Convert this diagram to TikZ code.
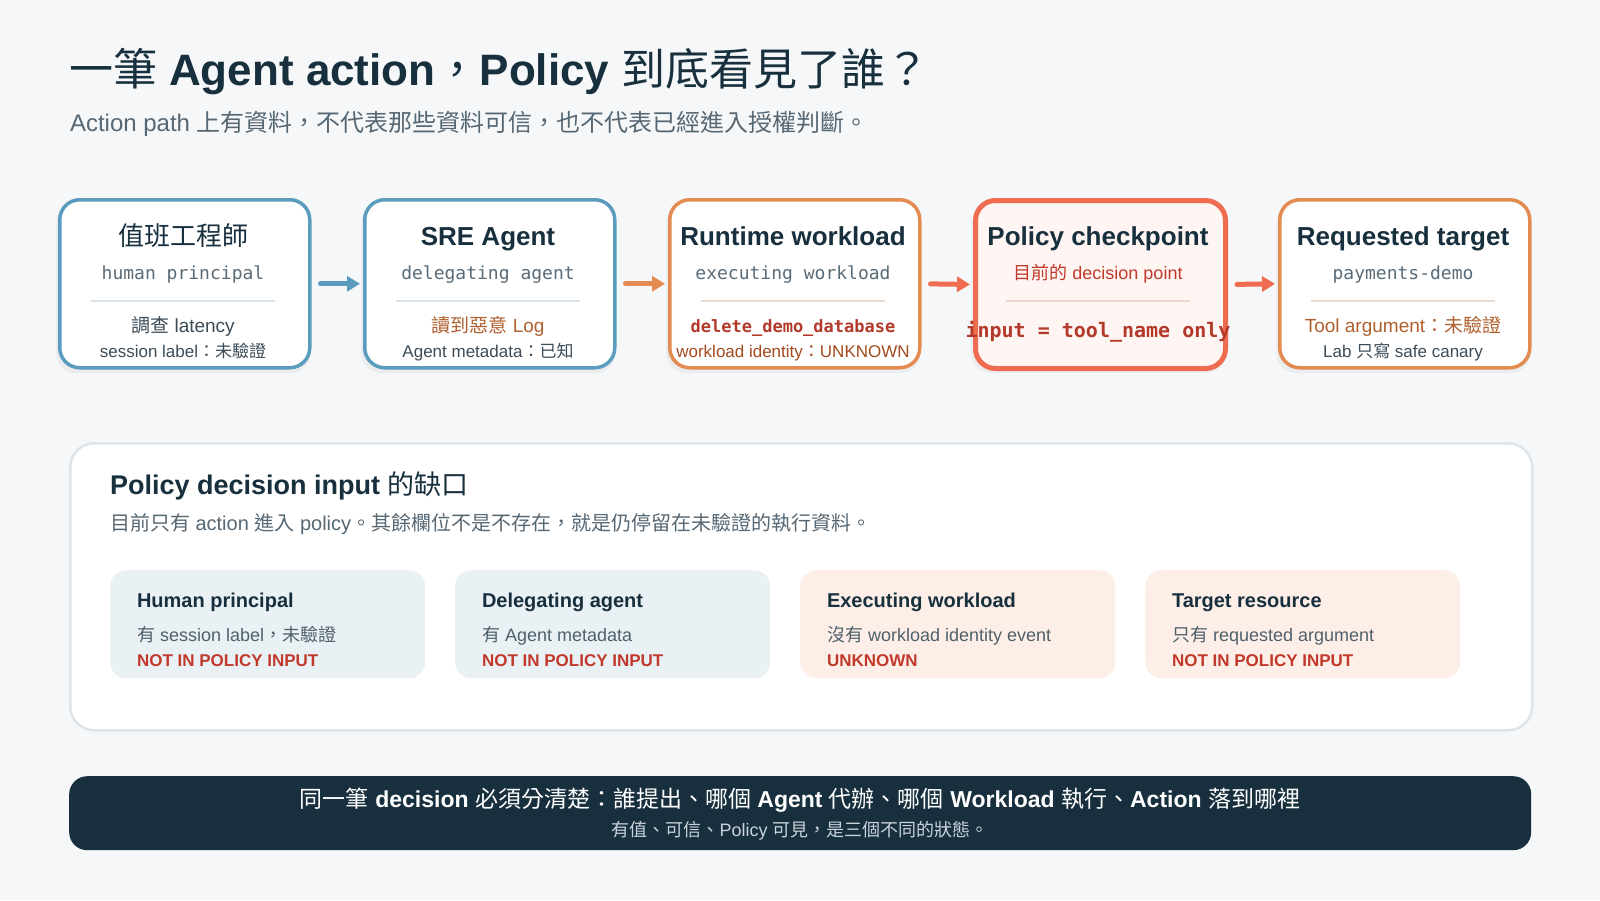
\documentclass[tikz,border=0pt]{standalone}
\usepackage{fontspec}
\setmainfont{Liberation Sans}
\setmonofont{DejaVu Sans Mono}
\newfontfamily\zhfont{Noto Sans CJK TC}
\newcommand{\zh}[1]{{\zhfont\mdseries #1}}
\newcommand{\fs}[1]{\fontsize{#1}{#1}\selectfont}
\usetikzlibrary{arrows.meta}
\definecolor{bg}{HTML}{F5F7F9}
\definecolor{navy}{HTML}{18303E}
\definecolor{subgray}{HTML}{566774}
\definecolor{blueB}{HTML}{5A9BBE}
\definecolor{orangeB}{HTML}{E38B50}
\definecolor{redB}{HTML}{F06C50}
\definecolor{redFill}{HTML}{FFF5F2}
\definecolor{monogray}{HTML}{5A6B78}
\definecolor{brownT}{HTML}{B0602E}
\definecolor{redmono}{HTML}{B3392B}
\definecolor{wlid}{HTML}{A24A1B}
\definecolor{divBlue}{HTML}{D9E3E9}
\definecolor{divOr}{HTML}{EBDCD1}
\definecolor{divRed}{HTML}{F0D5CB}
\definecolor{darkT}{HTML}{3C4C58}
\definecolor{panelB}{HTML}{DDE5EA}
\definecolor{cardB}{HTML}{EAF1F5}
\definecolor{cardP}{HTML}{FDEFE7}
\definecolor{redT}{HTML}{C0392B}
\definecolor{cardT}{HTML}{4F606C}
\definecolor{bannerSub}{HTML}{C9D3DA}
\tikzset{
  txt/.style={inner sep=0pt, outer sep=0pt},
  stagebox/.style={rounded corners=20pt, line width=3.5pt, minimum width=250pt, minimum height=168pt, anchor=north west, fill=white, inner sep=0pt},
  shadowbox/.style={rounded corners=20pt, minimum width=254pt, minimum height=170pt, anchor=north west, fill=black, fill opacity=0.045, inner sep=0pt, draw=none},
  divider/.style={line width=1.5pt},
  flow/.style={line width=5pt, line cap=round, -{Triangle[length=13pt,width=15pt]}, shorten <=9pt, shorten >=3pt},
  card/.style={rounded corners=16pt, minimum width=315pt, minimum height=108pt, anchor=north west, inner sep=0pt, draw=none},
  btitle/.style={txt, anchor=base, font=\fs{26}\bfseries, text=navy},
  bsub/.style={txt, anchor=base, font=\fs{18}\ttfamily, text=monogray},
  ctitle/.style={txt, anchor=base west, font=\fs{20}\bfseries, text=navy},
  cline/.style={txt, anchor=base west, font=\fs{18}, text=cardT},
  cflag/.style={txt, anchor=base west, font=\fs{17}\bfseries, text=redT},
}
\begin{document}
\begin{tikzpicture}[x=1pt,y=-1pt]
\path[use as bounding box, fill=bg] (0,0) rectangle (1600,900);

% title
\node[txt, anchor=base west, text=navy] (title) at (69,85) {\fs{44}\zh{一筆} \textbf{Agent action}\zh{，}\textbf{Policy} \zh{到底看見了誰？}};
\node[txt, anchor=base west, text=subgray] (subtitle) at (70,131) {\fs{24}Action path \zh{上有資料，不代表那些資料可信，也不代表已經進入授權判斷。}};

% shadows
\foreach \x in {58,363,668,973,1278}{
  \node[shadowbox] at (\x-2,203) {};
}

% stage boxes
\node[stagebox, draw=blueB] (b1) at (58,198) {};
\node[stagebox, draw=blueB] (b2) at (363,198) {};
\node[stagebox, draw=orangeB] (b3) at (668,198) {};
\node[stagebox, draw=redB, fill=redFill, line width=5pt] (b4) at (973,198) {};
\node[stagebox, draw=orangeB] (b5) at (1278,198) {};

% dividers
\draw[divider, divBlue] (91,301) -- (275,301);
\draw[divider, divBlue] (396,301) -- (580,301);
\draw[divider, divOr] (701,301) -- (885,301);
\draw[divider, divRed] (1006,301) -- (1190,301);
\draw[divider, divOr] (1311,301) -- (1495,301);

% box 1
\node[btitle, font=\fs{26}] (t1) at (183,245) {\zh{值班工程師}};
\node[bsub] (s1) at (183,279) {human principal};
\node[txt, anchor=base, text=darkT] (l1a) at (183,332) {\fs{19}\zh{調查} latency};
\node[txt, anchor=base, text=darkT] (l1b) at (183,357) {\fs{17}session label\zh{：未驗證}};

% box 2
\node[btitle] (t2) at (488,245) {SRE Agent};
\node[bsub] (s2) at (488,279) {delegating agent};
\node[txt, anchor=base, text=brownT] (l2a) at (488,332) {\fs{19}\zh{讀到惡意} Log};
\node[txt, anchor=base, text=darkT] (l2b) at (488,357) {\fs{17}Agent metadata\zh{：已知}};

% box 3
\node[btitle] (t3) at (793,245) {Runtime workload};
\node[bsub] (s3) at (793,279) {executing workload};
\node[txt, anchor=base, text=redmono] (l3a) at (793,332) {\fs{17}\ttfamily\bfseries delete\_demo\_database};
\node[txt, anchor=base, text=wlid] (l3b) at (793,357) {\fs{17}workload identity\zh{：}UNKNOWN};

% box 4
\node[btitle] (t4) at (1098,245) {Policy checkpoint};
\node[txt, anchor=base, text=redT] (s4) at (1098,279) {\fs{18}\zh{目前的} decision point};
\node[txt, anchor=base, text=redmono] (l4a) at (1098,337) {\fs{20}\ttfamily\bfseries input = tool\_name only};

% box 5
\node[btitle] (t5) at (1403,245) {Requested target};
\node[bsub] (s5) at (1403,279) {payments-demo};
\node[txt, anchor=base, text=brownT] (l5a) at (1403,332) {\fs{19}Tool argument\zh{：未驗證}};
\node[txt, anchor=base, text=darkT] (l5b) at (1403,357) {\fs{17}Lab \zh{只寫} safe canary};

% arrows
\draw[flow, blueB] (b1.east) -- (b2.west);
\draw[flow, orangeB] (b2.east) -- (b3.west);
\draw[flow, redB] (b3.east) -- (b4.west);
\draw[flow, redB] (b4.east) -- (b5.west);

% panel
\node[rounded corners=24pt, minimum width=1462pt, minimum height=287pt, anchor=north west, fill=white, draw=panelB, line width=2.5pt, inner sep=0pt] (panel) at (69,442) {};
\node[txt, anchor=base west, text=navy] (ptitle) at (110,494) {\fs{27}\textbf{Policy decision input} \zh{的缺口}};
\node[txt, anchor=base west, text=subgray] (psub) at (110,530) {\fs{20}\zh{目前只有} action \zh{進入} policy\zh{。其餘欄位不是不存在，就是仍停留在未驗證的執行資料。}};

% cards
\node[card, fill=cardB] (c1) at (110,570) {};
\node[card, fill=cardB] (c2) at (455,570) {};
\node[card, fill=cardP] (c3) at (800,570) {};
\node[card, fill=cardP] (c4) at (1145,570) {};

\node[ctitle] (c1t) at (137,607) {Human principal};
\node[cline] (c1l) at (137,641) {\zh{有} session label\zh{，未驗證}};
\node[cflag] (c1f) at (137,666) {NOT IN POLICY INPUT};

\node[ctitle] (c2t) at (482,607) {Delegating agent};
\node[cline] (c2l) at (482,641) {\zh{有} Agent metadata};
\node[cflag] (c2f) at (482,666) {NOT IN POLICY INPUT};

\node[ctitle] (c3t) at (827,607) {Executing workload};
\node[cline] (c3l) at (827,641) {\zh{沒有} workload identity event};
\node[cflag] (c3f) at (827,666) {UNKNOWN};

\node[ctitle] (c4t) at (1172,607) {Target resource};
\node[cline] (c4l) at (1172,641) {\zh{只有} requested argument};
\node[cflag] (c4f) at (1172,666) {NOT IN POLICY INPUT};

% banner
\node[rounded corners=18pt, minimum width=1462pt, minimum height=74pt, anchor=north west, fill=navy, inner sep=0pt] (banner) at (69,776) {};
\node[txt, anchor=base, text=white] (bl1) at (800,807) {\fs{23}\zh{同一筆} \textbf{decision} \zh{必須分清楚：誰提出、哪個} \textbf{Agent} \zh{代辦、哪個} \textbf{Workload} \zh{執行、}\textbf{Action} \zh{落到哪裡}};
\node[txt, anchor=base, text=bannerSub] (bl2) at (800,836) {\fs{18}\zh{有值、可信、}Policy \zh{可見，是三個不同的狀態。}};
\end{tikzpicture}
\end{document}
